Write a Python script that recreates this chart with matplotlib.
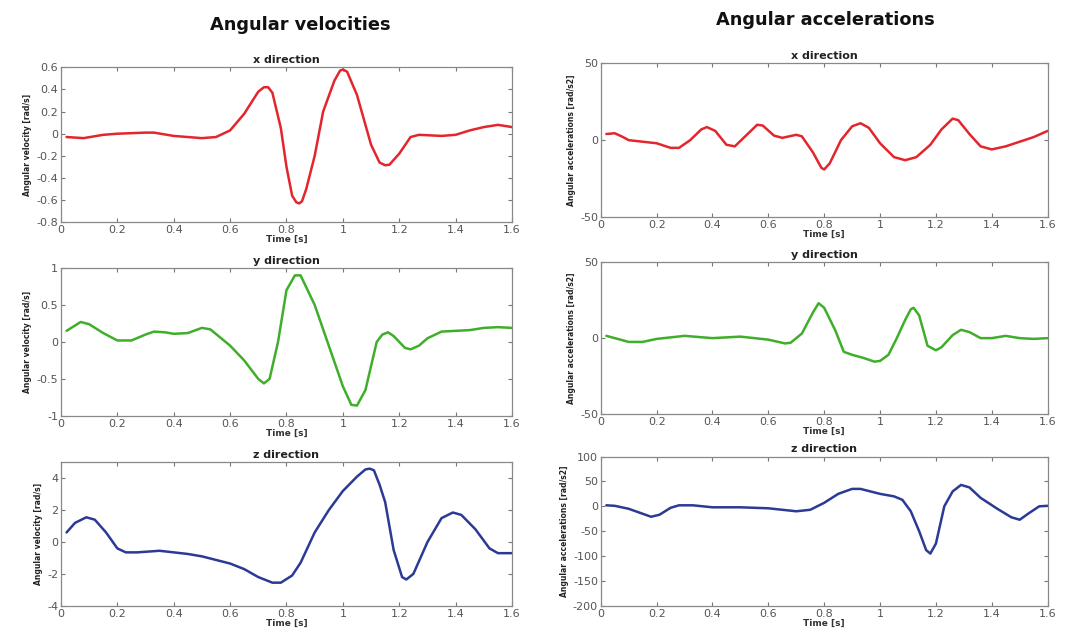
import numpy as np
import matplotlib
matplotlib.use("Agg")
import matplotlib.pyplot as plt

# --- data (time in s) ---
t_vx = [0.02, 0.08, 0.15, 0.2, 0.3, 0.33, 0.4, 0.5, 0.55, 0.6, 0.65, 0.7, 0.72, 0.735, 0.75,
        0.78, 0.8, 0.82, 0.835, 0.845, 0.855, 0.87, 0.9, 0.93, 0.97, 0.99, 1.0, 1.015, 1.05,
        1.1, 1.13, 1.15, 1.165, 1.2, 1.24, 1.27, 1.35, 1.4, 1.45, 1.5, 1.55, 1.6]
vel_x = [-0.03, -0.04, -0.01, 0.0, 0.01, 0.01, -0.02, -0.04, -0.03, 0.03, 0.18, 0.38,
         0.42, 0.42, 0.37, 0.05, -0.3, -0.56, -0.62, -0.63, -0.61, -0.5, -0.2, 0.2, 0.48,
         0.57, 0.58, 0.56, 0.35, -0.1, -0.26, -0.285, -0.28, -0.18, -0.03, -0.01, -0.02,
         -0.01, 0.03, 0.06, 0.08, 0.06]

t_vy = [0.02, 0.07, 0.1, 0.15, 0.2, 0.25, 0.3, 0.33, 0.37, 0.4, 0.45, 0.5, 0.53, 0.6,
        0.65, 0.7, 0.72, 0.74, 0.77, 0.8, 0.83, 0.85, 0.9, 0.95, 1.0, 1.03, 1.05, 1.08,
        1.12, 1.14, 1.16, 1.18, 1.22, 1.24, 1.27, 1.3, 1.35, 1.4, 1.45, 1.5, 1.55, 1.6]
vel_y = [0.15, 0.27, 0.24, 0.12, 0.02, 0.02, 0.1, 0.14, 0.13, 0.11, 0.12, 0.19, 0.17,
         -0.05, -0.25, -0.5, -0.56, -0.5, 0.0, 0.7, 0.9, 0.9, 0.5, -0.05, -0.6, -0.85,
         -0.86, -0.65, 0.0, 0.1, 0.13, 0.08, -0.08, -0.1, -0.05, 0.05, 0.14, 0.15, 0.16,
         0.19, 0.2, 0.19]

t_vz = [0.02, 0.05, 0.09, 0.12, 0.16, 0.2, 0.23, 0.27, 0.35, 0.45, 0.5, 0.6, 0.65, 0.7,
        0.75, 0.78, 0.82, 0.85, 0.9, 0.95, 1.0, 1.05, 1.08, 1.095, 1.11, 1.13, 1.15, 1.18,
        1.21, 1.225, 1.25, 1.3, 1.35, 1.39, 1.42, 1.47, 1.52, 1.55, 1.6]
vel_z = [0.6, 1.2, 1.55, 1.4, 0.6, -0.4, -0.65, -0.65, -0.55, -0.75, -0.9, -1.35, -1.7,
         -2.2, -2.55, -2.55, -2.1, -1.3, 0.6, 2.0, 3.2, 4.1, 4.55, 4.6, 4.5, 3.6, 2.5, -0.5,
         -2.2, -2.35, -2.0, 0.0, 1.5, 1.85, 1.7, 0.8, -0.4, -0.7, -0.7]

t_ax = [0.02, 0.05, 0.08, 0.1, 0.15, 0.2, 0.25, 0.28, 0.32, 0.36, 0.38, 0.41, 0.45, 0.48,
        0.52, 0.56, 0.58, 0.62, 0.65, 0.7, 0.72, 0.76, 0.79, 0.8, 0.82, 0.86, 0.9, 0.93, 0.96,
        1.0, 1.05, 1.09, 1.13, 1.18, 1.22, 1.26, 1.28, 1.32, 1.36, 1.4, 1.45, 1.5, 1.55, 1.6]
acc_x = [4, 4.5, 2, 0, -1, -2, -5, -5, 0, 7, 8.5, 6, -3, -4, 3, 10, 9.5, 3, 1.5, 3.5, 2.5,
         -8, -18, -19, -15, 0, 9, 11, 8, -2, -11, -13, -11, -3, 7, 14, 13, 4, -4, -6, -4,
         -1, 2, 6]

t_ay = [0.02, 0.05, 0.1, 0.15, 0.2, 0.3, 0.4, 0.5, 0.6, 0.66, 0.68, 0.72, 0.76, 0.78,
        0.8, 0.84, 0.87, 0.9, 0.94, 0.98, 1.0, 1.03, 1.06, 1.09, 1.11, 1.12, 1.14, 1.17,
        1.2, 1.22, 1.26, 1.29, 1.32, 1.36, 1.4, 1.45, 1.5, 1.55, 1.6]
acc_y = [1.5, 0, -2.5, -2.5, -0.5, 1.5, 0, 1, -1, -3.5, -3, 3, 17, 23, 20, 5, -9, -11,
         -13, -15.5, -15, -11, 0, 12, 19, 20, 15, -5, -8, -6, 2, 5.5, 4, 0, 0, 1.5, 0,
         -0.5, 0]

t_az = [0.02, 0.05, 0.1, 0.15, 0.18, 0.21, 0.25, 0.28, 0.33, 0.4, 0.5, 0.6, 0.7, 0.75,
        0.8, 0.85, 0.9, 0.93, 1.0, 1.05, 1.08, 1.11, 1.14, 1.165, 1.18, 1.2, 1.23, 1.26,
        1.29, 1.32, 1.36, 1.42, 1.47, 1.5, 1.53, 1.57, 1.6]
acc_z = [2, 1, -5, -15, -21, -17, -3, 2, 2, -2, -2, -4, -10, -7, 7, 25, 35, 35, 25, 20,
         13, -10, -50, -88, -95, -75, 0, 30, 43, 38, 17, -5, -22, -27, -15, 0, 1]

x_ticks = [0, 0.2, 0.4, 0.6, 0.8, 1.0, 1.2, 1.4, 1.6]
x_ticklabels = ["0", "0.2", "0.4", "0.6", "0.8", "1", "1.2", "1.4", "1.6"]

RED = "#e3262d"
GREEN = "#3fae2a"
BLUE = "#2b3a95"
GREY = "#555555"
NARROW = ["Liberation Sans Narrow", "DejaVu Sans"]

fig = plt.figure(figsize=(10.69, 6.35), dpi=100)
fig.patch.set_facecolor("white")

panels = [
    # (rect, t, y, color, title, ylabel, ylim, yticks, yticklabels)
    ([0.057, 0.650, 0.422, 0.244], t_vx, vel_x, RED, "x direction",
     "Angular velocity [rad/s]", (-0.8, 0.6),
     [-0.8, -0.6, -0.4, -0.2, 0, 0.2, 0.4, 0.6],
     ["-0.8", "-0.6", "-0.4", "-0.2", "0", "0.2", "0.4", "0.6"]),
    ([0.057, 0.345, 0.422, 0.233], t_vy, vel_y, GREEN, "y direction",
     "Angular velocity [rad/s]", (-1, 1),
     [-1, -0.5, 0, 0.5, 1], ["-1", "-0.5", "0", "0.5", "1"]),
    ([0.057, 0.046, 0.422, 0.226], t_vz, vel_z, BLUE, "z direction",
     "Angular velocity [rad/s]", (-4, 5),
     [-4, -2, 0, 2, 4], ["-4", "-2", "0", "2", "4"]),
    ([0.562, 0.658, 0.418, 0.2425], t_ax, acc_x, RED, "x direction",
     "Angular accelerations [rad/s2]", (-50, 50),
     [-50, 0, 50], ["-50", "0", "50"]),
    ([0.562, 0.348, 0.418, 0.239], t_ay, acc_y, GREEN, "y direction",
     "Angular accelerations [rad/s2]", (-50, 50),
     [-50, 0, 50], ["-50", "0", "50"]),
    ([0.562, 0.046, 0.418, 0.235], t_az, acc_z, BLUE, "z direction",
     "Angular accelerations [rad/s2]", (-200, 100),
     [-200, -150, -100, -50, 0, 50, 100],
     ["-200", "-150", "-100", "-50", "0", "50", "100"]),
]

for rect, t, y, color, title, ylabel, ylim, yticks, yticklabels in panels:
    ax = fig.add_axes(rect)
    ax.plot(t, y, color=color, lw=1.8, solid_joinstyle="round", solid_capstyle="round")
    ax.set_xlim(0, 1.6)
    ax.set_ylim(*ylim)
    ax.set_xticks(x_ticks)
    ax.set_xticklabels(x_ticklabels)
    ax.set_yticks(yticks)
    ax.set_yticklabels(yticklabels)
    ax.tick_params(direction="in", top=True, right=True, length=3, width=0.8,
                   colors="#777777", labelcolor=GREY, labelsize=8, pad=2)
    for s in ax.spines.values():
        s.set_color("#888888")
        s.set_linewidth(0.9)
    ax.set_title(title, fontsize=8, fontweight="bold", color="#222222", pad=3)
    ax.set_xlabel("Time [s]", fontsize=6.5, fontweight="bold", color="#333333", labelpad=0)
    ax.set_ylabel(ylabel, fontsize=5.5, fontweight="bold", color="#222222",
                  family=NARROW, labelpad=3)

fig.text(0.281, 0.961, "Angular velocities", ha="center", va="center",
         fontsize=12.8, fontweight="bold", color="#111111")
fig.text(0.772, 0.969, "Angular accelerations", ha="center", va="center",
         fontsize=12.8, fontweight="bold", color="#111111")

fig.savefig("out.png", dpi=100)
